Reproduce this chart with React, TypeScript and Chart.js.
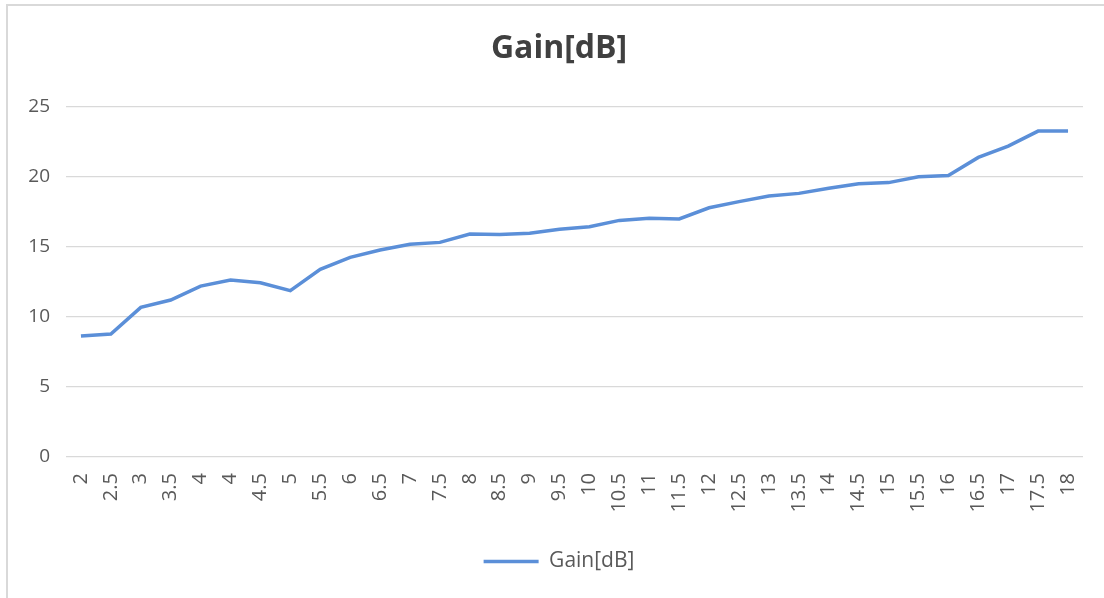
import React, { useEffect, useRef } from "react";
import { Chart, registerables } from "chart.js";

Chart.register(...registerables);

const categories: string[] = [
  "2", "2.5", "3", "3.5", "4", "4", "4.5", "5", "5.5", "6", "6.5", "7", "7.5", "8", "8.5", "9", "9.5",
  "10", "10.5", "11", "11.5", "12", "12.5", "13", "13.5", "14", "14.5", "15", "15.5", "16", "16.5", "17", "17.5", "18",
];

const gainValues: number[] = [
  8.64, 8.79, 10.69, 11.21, 12.21, 12.64, 12.45, 11.88, 13.4, 14.26, 14.79, 15.19, 15.33, 15.93, 15.9, 15.98, 16.26,
  16.45, 16.9, 17.05, 17.0, 17.8, 18.24, 18.64, 18.83, 19.19, 19.52, 19.6, 20.02, 20.1, 21.4, 22.21, 23.28, 23.28,
];

const seriesName = "Gain[dB]";
const chartTitle = "Gain[dB]";
const yMin = 0;
const yMax = 25;
const yStep = 5;

const FONT = "'Open Sans', 'Noto Sans', sans-serif";

// Centre the title and legend on the whole chart frame rather than on the padded layout box.
const frameCenterPlugin = {
  id: "frameCenter",
  afterLayout(chart: any) {
    const boxes = [chart.titleBlock, chart.legend];
    for (const b of boxes) {
      if (b) {
        b.left = 0;
        b.right = 1118;
        b.width = 1118;
      }
    }
  },
};

export default function App() {
  const canvasRef = useRef<HTMLCanvasElement | null>(null);

  useEffect(() => {
    if (!canvasRef.current) return;
    const chart = new Chart(canvasRef.current, {
      type: "line",
      data: {
        labels: categories,
        datasets: [
          {
            label: seriesName,
            data: gainValues,
            borderColor: "#5B8FD8",
            backgroundColor: "#5B8FD8",
            borderWidth: 3.5,
            pointRadius: 0,
            tension: 0,
            fill: false,
          },
        ],
      },
      plugins: [frameCenterPlugin],
      options: {
        animation: false,
        responsive: false,
        maintainAspectRatio: false,
        layout: { padding: { left: 0, right: 21, top: 0, bottom: 16 } },
        plugins: {
          title: {
            display: true,
            text: chartTitle,
            color: "#404040",
            font: { family: FONT, size: 32, weight: "bold" },
            padding: { top: 30, bottom: 38.6 },
          },
          legend: {
            display: true,
            position: "bottom",
            labels: {
              usePointStyle: true,
              pointStyle: "line",
              pointStyleWidth: 55,
              color: "#595959",
              font: { family: FONT, size: 21 },
              padding: 10,
            },
          },
          tooltip: { enabled: false },
        },
        scales: {
          x: {
            type: "category",
            offset: true,
            grid: { display: false },
            border: { display: false },
            ticks: {
              autoSkip: false,
              minRotation: 90,
              maxRotation: 90,
              color: "#595959",
              font: { family: FONT, size: 20 },
              padding: 8,
            },
            afterFit: (s: any) => {
              s.height = 84;
            },
          },
          y: {
            min: yMin,
            max: yMax,
            grid: { color: "#D9D9D9", lineWidth: 1.3, drawTicks: false },
            border: { display: false },
            ticks: {
              stepSize: yStep,
              color: "#595959",
              font: { family: FONT, size: 19 },
              padding: 16,
            },
            afterFit: (s: any) => {
              s.width = 66;
            },
          },
        },
      },
    });
    return () => chart.destroy();
  }, []);

  return (
    <div style={{ position: "fixed", left: 0, top: 0, width: 1104, height: 598, background: "#ffffff", overflow: "hidden" }}>
      <canvas ref={canvasRef} width={1104} height={598} style={{ display: "block", width: 1104, height: 598 }} />
      <div style={{ position: "absolute", left: 6, top: 4, width: 1098, height: 2, background: "#D9D9D9" }} />
      <div style={{ position: "absolute", left: 6, top: 4, width: 2, height: 594, background: "#D9D9D9" }} />
    </div>
  );
}
